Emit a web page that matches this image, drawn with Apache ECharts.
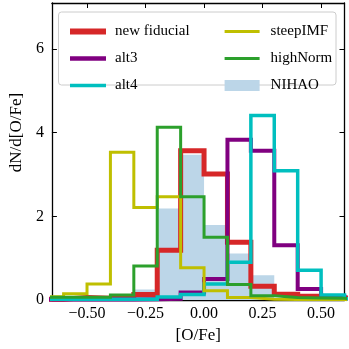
<!DOCTYPE html>
<html>
<head>
<meta charset="utf-8">
<script src="https://cdn.jsdelivr.net/npm/echarts@6/dist/echarts.min.js"></script>
<style>html,body{margin:0;padding:0;background:#fff}#c{width:349px;height:349px}</style>
</head>
<body>
<div id="c"></div>
<script>
// Bin edges (14 bins of width 0.1)
const binEdges = [-0.7,-0.6,-0.5,-0.4,-0.3,-0.2,-0.1,0.0,0.1,0.2,0.3,0.4,0.5,0.6,0.7];
// Histogram densities per bin
const newFiducial = [0.02,0.06,0.04,0.07,0.13,1.19,3.57,3.01,1.38,0.33,0.14,0.09,0.05,0.03];
const alt3        = [0.01,0.01,0.01,0.01,0.02,0.03,0.18,0.50,3.83,3.57,1.31,0.26,0.08,0.03];
const alt4        = [0.02,0.02,0.02,0.02,0.02,0.07,0.13,0.38,0.90,4.41,3.09,0.71,0.12,0.03];
const steepIMF    = [0.08,0.15,0.38,3.53,2.21,2.47,0.77,0.22,0.06,0.02,0.01,0.01,0.01,0.00];
const highNorm    = [0.065,0.065,0.065,0.12,0.81,4.13,2.47,1.50,0.37,0.10,0.06,0.05,0.04,0.02];
const nihao       = [0,0,0,0,0.25,2.19,3.47,1.79,1.11,0.59,0,0,0,0];
const xTicks = [-0.5,-0.25,0,0.25,0.5];
const yTicks = [0,2,4,6];

const FONT = 'Liberation Serif';
function stepData(vals){
  return binEdges.map((e,i)=>[e, vals[Math.min(i, vals.length-1)]]);
}
function fmtX(v){
  const s = Math.abs(v).toFixed(2);
  return (v < -1e-9 ? '\u2212' : '') + s;
}
const axLine = {show:true, onZero:false, lineStyle:{color:'#000', width:1.3}};
const tickX = {inside:true, length:5, customValues:xTicks, lineStyle:{color:'#000', width:1}};
const tickY = {inside:true, length:5, customValues:yTicks, lineStyle:{color:'#000', width:1}};
const XMIN=-0.65, XMAX=0.6, YMIN=0, YMAX=7.1;

function lineSeries(name, vals, color, w){
  return {name, type:'line', step:'end', symbol:'none', data:stepData(vals),
    lineStyle:{color, width:w, join:'miter'}, itemStyle:{color}, animation:false, clip:true};
}
const hideSym = {opacity:0};
function legItem(name, w){ return {name, itemStyle:hideSym, lineStyle:{width:w}}; }

const chart = echarts.init(document.getElementById('c'), null, {renderer:'canvas'});
chart.setOption({
  animation:false,
  grid:{left:40, right:4.5, top:3, bottom:49},
  xAxis:[
    {type:'value', min:XMIN, max:XMAX, position:'bottom', axisLine:axLine, axisTick:tickX,
     splitLine:{show:false},
     axisLabel:{customValues:xTicks, formatter:fmtX, fontFamily:FONT, fontSize:16, color:'#000', margin:6},
     name:'[O/Fe]', nameLocation:'middle', nameGap:26,
     nameTextStyle:{fontFamily:FONT, fontSize:17, color:'#000'}},
    {type:'value', min:XMIN, max:XMAX, position:'top', axisLine:axLine, axisTick:tickX,
     splitLine:{show:false}, axisLabel:{show:false}}
  ],
  yAxis:[
    {type:'value', min:YMIN, max:YMAX, position:'left', axisLine:axLine, axisTick:tickY,
     splitLine:{show:false},
     axisLabel:{customValues:yTicks, fontFamily:FONT, fontSize:16, color:'#000', margin:8},
     name:'dN/d[O/Fe]', nameLocation:'middle', nameGap:16, nameRotate:90,
     nameTextStyle:{fontFamily:FONT, fontSize:17, color:'#000', padding:[0,0,0,38]}},
    {type:'value', min:YMIN, max:YMAX, position:'right', axisLine:axLine, axisTick:tickY,
     splitLine:{show:false}, axisLabel:{show:false}}
  ],
  graphic:[{type:'rect', z:10, shape:{x:58.5, y:12, width:277.5, height:73, r:3},
    style:{fill:'rgba(255,255,255,0.8)', stroke:'#cccccc', lineWidth:1}}],
  legend:[
    {orient:'vertical', left:62, top:19, itemWidth:36, itemHeight:11, itemGap:12, z:20,
     data:[legItem('new fiducial',6), legItem('alt3',4.5), legItem('alt4',3.5)],
     textStyle:{fontFamily:FONT, fontSize:15, color:'#000', padding:[0,0,0,4]}},
    {orient:'vertical', left:218, top:19, itemWidth:35, itemHeight:11, itemGap:12, z:20,
     data:[legItem('steepIMF',3.2), legItem('highNorm',3.2), {name:'NIHAO', icon:'rect'}],
     textStyle:{fontFamily:FONT, fontSize:15, color:'#000', padding:[0,0,0,6]}}
  ],
  series:[
    {name:'NIHAO', type:'line', step:'end', symbol:'none', data:stepData(nihao),
     lineStyle:{width:0, color:'#bcd6e8'}, itemStyle:{color:'#bcd6e8'},
     areaStyle:{color:'#bcd6e8', opacity:1}, animation:false, z:1},
    lineSeries('new fiducial', newFiducial, '#d62728', 5),
    lineSeries('alt3', alt3, '#800080', 4),
    lineSeries('alt4', alt4, '#00bfbf', 3.5),
    lineSeries('steepIMF', steepIMF, '#bfbf00', 3),
    lineSeries('highNorm', highNorm, '#2ca02c', 3)
  ]
});
</script>
</body>
</html>
